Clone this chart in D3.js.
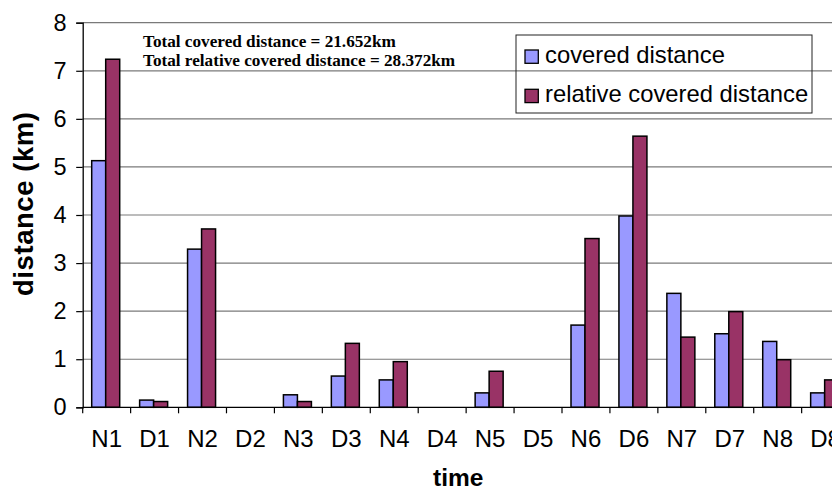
<!DOCTYPE html>
<html>
<head>
<meta charset="utf-8">
<script src="https://cdn.jsdelivr.net/npm/d3@7"></script>
<style>
  html, body { margin: 0; padding: 0; background: #fff; }
  svg { display: block; }
</style>
</head>
<body>
<svg id="chart" width="832" height="488"></svg>
<script>
// Time slots (night / day) and distances in km
const categories = ["N1","D1","N2","D2","N3","D3","N4","D4","N5","D5","N6","D6","N7","D7","N8","D8"];
const coveredDistance = [5.13,0.15,3.29,0,0.26,0.65,0.57,0,0.30,0,1.71,3.98,2.37,1.53,1.37,0.30];
const relativeDistance = [7.24,0.12,3.71,0,0.12,1.33,0.95,0,0.75,0,3.51,5.64,1.46,1.99,0.99,0.57];
const seriesNames = ["covered distance", "relative covered distance"];
const seriesColors = ["#9999FF", "#993366"];
const yTicks = [0,1,2,3,4,5,6,7,8];
const notes = ["Total covered distance = 21.652km", "Total relative covered distance = 28.372km"];

const sans = "'Liberation Sans', Arial, sans-serif";
const svg = d3.select("#chart");
const plotLeft = 82.7, plotTop = 22.7, plotBottom = 407.3, band = 47.93;
const plotRight = plotLeft + band * categories.length;

const x = d3.scaleBand().domain(categories).range([plotLeft, plotRight]).padding(0);
const xInner = d3.scaleBand().domain([0, 1]).range([9, 37]).padding(0);
const y = d3.scaleLinear().domain([0, 8]).range([plotBottom, plotTop]);

// horizontal gridlines
svg.append("g").selectAll("line").data(yTicks.filter(d => d > 0)).join("line")
  .attr("x1", plotLeft).attr("x2", 832)
  .attr("y1", d => y(d)).attr("y2", d => y(d))
  .attr("stroke", "#7a7a7a").attr("stroke-width", 1.2);

// totals annotation
svg.append("g").selectAll("text").data(notes).join("text")
  .attr("x", 143).attr("y", (d, i) => 46.7 + i * 19)
  .attr("font-family", "'Liberation Serif', 'Times New Roman', serif")
  .attr("font-weight", "bold").attr("font-size", 17.2)
  .attr("fill", "#000")
  .text(d => d);

// legend
const legend = svg.append("g");
legend.append("rect").attr("x", 516).attr("y", 35).attr("width", 296).attr("height", 78)
  .attr("fill", "none").attr("stroke", "#222").attr("stroke-width", 1);
seriesNames.forEach((name, i) => {
  const sy = 50 + i * 39.3;
  legend.append("rect").attr("x", 525).attr("y", sy).attr("width", 13.3).attr("height", 13.3)
    .attr("fill", seriesColors[i]).attr("stroke", "#000").attr("stroke-width", 1.3);
  legend.append("text").attr("x", 545).attr("y", 63 + i * 38.7)
    .attr("font-family", sans).attr("font-size", 23.8)
    .attr("fill", "#000").text(name);
});

// bars
const seriesData = [coveredDistance, relativeDistance];
seriesData.forEach((vals, s) => {
  svg.append("g").selectAll("rect").data(vals.map((v, i) => ({ c: categories[i], v })))
    .join("rect")
    .filter(d => d.v > 0)
    .attr("x", d => x(d.c) + xInner(s))
    .attr("y", d => y(d.v))
    .attr("width", xInner.bandwidth())
    .attr("height", d => y(0) - y(d.v))
    .attr("fill", seriesColors[s])
    .attr("stroke", "#000").attr("stroke-width", 1.5);
});

// y axis
const yAxis = d3.axisLeft(y).tickValues(yTicks).tickSize(6.5).tickPadding(9.5).tickFormat(d3.format("d"));
const gy = svg.append("g").attr("transform", `translate(${plotLeft},0)`).call(yAxis);
gy.select(".domain").attr("stroke", "#000").attr("stroke-width", 1.3);
gy.selectAll(".tick line").attr("stroke", "#000").attr("stroke-width", 1.2);
gy.selectAll(".tick text").attr("font-family", sans)
  .attr("font-size", 23.5).attr("fill", "#000");

// x axis: baseline with separators between categories
const gx = svg.append("g");
gx.append("line").attr("x1", plotLeft).attr("x2", 832).attr("y1", plotBottom).attr("y2", plotBottom)
  .attr("stroke", "#000").attr("stroke-width", 1.3);
gx.selectAll("line.sep").data(categories.concat(["end"])).join("line").attr("class", "sep")
  .attr("x1", (d, i) => plotLeft + i * band).attr("x2", (d, i) => plotLeft + i * band)
  .attr("y1", plotBottom).attr("y2", plotBottom + 6)
  .attr("stroke", "#000").attr("stroke-width", 1.2);
gx.selectAll("text").data(categories).join("text")
  .attr("x", d => x(d) + x.bandwidth() / 2).attr("y", 447.3)
  .attr("text-anchor", "middle")
  .attr("font-family", sans).attr("font-size", 24)
  .attr("fill", "#000").text(d => d);

// axis titles
svg.append("text").attr("x", 458.3).attr("y", 486).attr("text-anchor", "middle")
  .attr("font-family", sans).attr("font-weight", "bold")
  .attr("font-size", 24.5).attr("fill", "#000").text("time");
svg.append("text").attr("transform", "translate(32.5,204) rotate(-90)")
  .attr("text-anchor", "middle")
  .attr("font-family", sans).attr("font-weight", "bold")
  .attr("font-size", 27.5).attr("fill", "#000")
  .attr("textLength", 184).attr("lengthAdjust", "spacing")
  .text("distance (km)");
</script>
</body>
</html>
